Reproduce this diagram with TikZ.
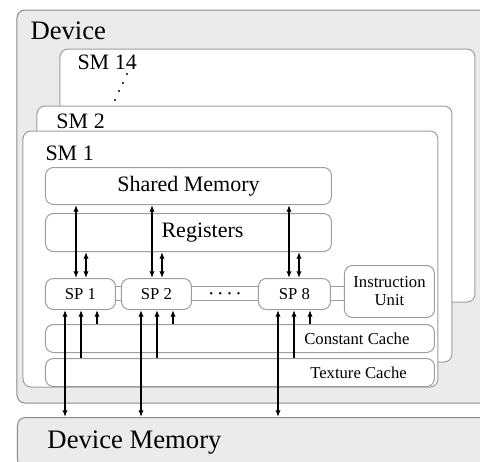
\documentclass[tikz,border=0pt]{standalone}
\usepackage{fontspec}
\setmainfont{Liberation Serif}
\usetikzlibrary{calc,arrows.meta}

\tikzset{every picture/.style={line width=0.75pt}}
\tikzset{
  frame/.style={draw=black!38, fill=white, rounded corners=6pt},
  unitbox/.style={frame, anchor=north west, inner sep=0pt, align=center},
  bus/.style={draw=black!38},
  biarrow/.style={{Latex[length=5pt,width=4pt]}-{Latex[length=5pt,width=4pt]}, line width=1pt},
  uparrow/.style={-{Latex[length=5pt,width=4pt]}, line width=1pt},
  bigfont/.style={font=\fontsize{20}{24}\selectfont},
  midfont/.style={font=\fontsize{16.5}{19}\selectfont},
  smallfont/.style={font=\fontsize{12.5}{13.5}\selectfont},
}

\begin{document}
\begin{tikzpicture}[x=0.75pt,y=0.75pt,yscale=-1,xscale=1]
\useasboundingbox (0,0) rectangle (480,462);
\begin{scope}
\clip (0,0) rectangle (480,462);

%Device
\draw[draw=black!45, fill=black!8, rounded corners=6pt] (17,10) rectangle (510,403);
\node[bigfont, anchor=base west, inner sep=0pt] (devlbl) at (30,39) {Device};

%SM 14
\draw[frame] (60,49) rectangle (475,302);
\node[midfont, anchor=base west, inner sep=0pt] (sm14lbl) at (77,69) {SM 14};
\foreach \px/\py in {127/74, 123/83, 119/91, 115/100}
  \fill (\px,\py) circle (1.1);

%SM 2
\draw[frame] (37,106) rectangle (452,362);
\node[midfont, anchor=base west, inner sep=0pt] (sm2lbl) at (56,128) {SM 2};

%SM 1
\draw[frame] (23,131) rectangle (438,387);
\node[midfont, anchor=base west, inner sep=0pt] (sm1lbl) at (45,160) {SM 1};

%memories
\node[unitbox, midfont, minimum width=286*0.75pt, minimum height=37*0.75pt] (shm) at (45,167) {Shared Memory};
\node[unitbox, minimum width=286*0.75pt, minimum height=38*0.75pt,
      label={[midfont, xshift=10.5pt]center:Registers}] (reg) at (45,213) {};

%processors
\node[unitbox, smallfont, minimum width=70*0.75pt, minimum height=31*0.75pt] (sp1) at (45,278) {SP 1};
\node[unitbox, smallfont, minimum width=70*0.75pt, minimum height=31*0.75pt] (sp2) at (121,278) {SP 2};
\node[unitbox, smallfont, minimum width=72*0.75pt, minimum height=31*0.75pt] (sp8) at (258,278) {SP 8};
\node[unitbox, smallfont, minimum width=90*0.75pt, minimum height=52*0.75pt] (iu) at (344,265) {Instruction\\Unit};

%bus
\coordinate (bt) at (0,286);
\coordinate (bb) at (0,300);
\draw[bus] (sp1.east |- bt) -- (sp2.west |- bt) (sp1.east |- bb) -- (sp2.west |- bb);
\draw[bus] (sp2.east |- bt) -- (sp8.west |- bt) (sp2.east |- bb) -- (sp8.west |- bb);
\draw[bus] (sp8.east |- bt) -- (iu.west |- bt) (sp8.east |- bb) -- (iu.west |- bb);
\node[font=\fontsize{18}{18}\selectfont, inner sep=0pt] (dots) at ($(sp2.east)!0.5!(sp8.west)$)
  {$\cdot$\hspace{2pt}$\cdot$\hspace{2pt}$\cdot$\hspace{2pt}$\cdot$};

%caches
\node[unitbox, minimum width=389*0.75pt, minimum height=28*0.75pt,
      label={[smallfont, anchor=east, xshift=-15.5pt]east:Constant Cache}] (con) at (45,324) {};
\node[unitbox, minimum width=389*0.75pt, minimum height=28*0.75pt,
      label={[smallfont, anchor=east, xshift=-17.5pt]east:Texture Cache}] (tex) at (45,358) {};

%Device Memory
\node[anchor=north west, draw=black!45, fill=black!8, rounded corners=6pt, inner sep=0pt,
      minimum width=500*0.75pt, minimum height=50*0.75pt,
      label={[bigfont, anchor=west, inner sep=0pt, xshift=22.5pt]west:Device Memory}] (devmem) at (17,417) {};

%arrows
\foreach \sp in {sp1,sp2,sp8}{
  \coordinate (m) at ($(\sp.south west)+(20,0)$);
  \draw[biarrow] (m) -- (m |- devmem.north);
  \coordinate (s) at ($(\sp.north west)+(31,0)$);
  \draw[biarrow] (s) -- (s |- shm.south);
  \coordinate (t) at ($(\sp.south west)+(36,0)$);
  \draw[uparrow] (t |- tex.north) -- (t);
  \coordinate (r) at ($(\sp.north west)+(41,0)$);
  \draw[biarrow] (r) -- (r |- reg.south);
  \coordinate (c) at ($(\sp.south west)+(52,0)$);
  \draw[uparrow] (c |- con.north) -- (c);
}
\end{scope}
\end{tikzpicture}
\end{document}
